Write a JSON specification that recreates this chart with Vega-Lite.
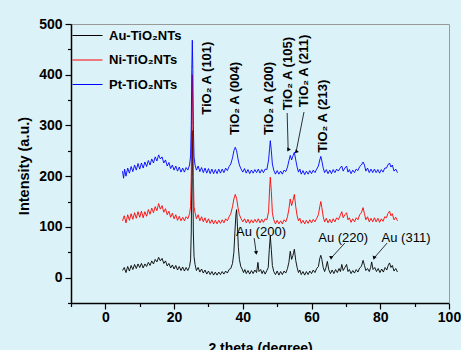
{
"$schema": "https://vega.github.io/schema/vega-lite/v6.json",
"width": 378, "height": 279,
"autosize": {"type": "none"},
"padding": {"left": 71, "top": 24, "right": 12, "bottom": 47},
"background": "#dbf3f8",
"config": {"view": {"stroke": null}, "font": "Liberation Sans", "axis": {"grid": false, "zindex": 1}},
"datasets": {
"au": [{"x":5,"y":14},{"x":5.5,"y":20},{"x":6,"y":10},{"x":6.5,"y":22},{"x":7,"y":13},{"x":7.5,"y":24},{"x":8,"y":16},{"x":8.5,"y":26},{"x":9,"y":18},{"x":9.5,"y":27},{"x":10,"y":20},{"x":10.5,"y":28},{"x":11,"y":19},{"x":11.5,"y":27},{"x":12,"y":22},{"x":12.5,"y":30},{"x":13,"y":24},{"x":13.5,"y":33},{"x":14,"y":27},{"x":14.5,"y":36},{"x":15,"y":31},{"x":15.5,"y":40},{"x":16,"y":33},{"x":16.5,"y":38},{"x":17,"y":28},{"x":17.5,"y":33},{"x":18,"y":23},{"x":18.5,"y":28},{"x":19,"y":19},{"x":19.5,"y":25},{"x":20,"y":17},{"x":20.5,"y":24},{"x":21,"y":15},{"x":21.5,"y":22},{"x":22,"y":14},{"x":22.5,"y":21},{"x":23,"y":13},{"x":23.5,"y":20},{"x":24,"y":14},{"x":24.5,"y":22},{"x":24.8,"y":35},{"x":25.0,"y":90},{"x":25.15,"y":200},{"x":25.3,"y":290},{"x":25.45,"y":200},{"x":25.6,"y":90},{"x":25.8,"y":42},{"x":26.1,"y":26},{"x":26.5,"y":14},{"x":27,"y":20},{"x":27.5,"y":11},{"x":28,"y":17},{"x":28.5,"y":9},{"x":29,"y":15},{"x":29.5,"y":7},{"x":30,"y":13},{"x":30.5,"y":6},{"x":31,"y":12},{"x":31.5,"y":5},{"x":32,"y":11},{"x":32.5,"y":5},{"x":33,"y":11},{"x":33.5,"y":6},{"x":34,"y":12},{"x":34.5,"y":7},{"x":35,"y":13},{"x":35.5,"y":9},{"x":36,"y":16},{"x":36.5,"y":18},{"x":37,"y":28},{"x":37.4,"y":50},{"x":37.7,"y":90},{"x":38.0,"y":125},{"x":38.2,"y":134},{"x":38.45,"y":100},{"x":38.7,"y":60},{"x":39.0,"y":36},{"x":39.4,"y":22},{"x":39.8,"y":17},{"x":40.2,"y":10},{"x":40.6,"y":16},{"x":41,"y":8},{"x":41.5,"y":14},{"x":42,"y":7},{"x":42.5,"y":14},{"x":43,"y":8},{"x":43.5,"y":15},{"x":44,"y":10},{"x":44.4,"y":30},{"x":44.7,"y":12},{"x":45.2,"y":16},{"x":45.6,"y":8},{"x":46,"y":14},{"x":46.5,"y":7},{"x":47,"y":14},{"x":47.4,"y":20},{"x":47.7,"y":55},{"x":48.0,"y":82},{"x":48.3,"y":55},{"x":48.6,"y":24},{"x":49,"y":12},{"x":49.5,"y":6},{"x":50,"y":13},{"x":50.5,"y":5},{"x":51,"y":12},{"x":51.5,"y":6},{"x":52,"y":13},{"x":52.5,"y":9},{"x":53,"y":18},{"x":53.4,"y":30},{"x":53.8,"y":52},{"x":54.2,"y":36},{"x":54.6,"y":44},{"x":55.0,"y":56},{"x":55.4,"y":34},{"x":55.8,"y":20},{"x":56.2,"y":10},{"x":56.6,"y":15},{"x":57,"y":6},{"x":57.5,"y":12},{"x":58,"y":5},{"x":58.5,"y":12},{"x":59,"y":6},{"x":59.5,"y":13},{"x":60,"y":8},{"x":60.5,"y":15},{"x":61,"y":10},{"x":61.5,"y":18},{"x":62,"y":22},{"x":62.4,"y":38},{"x":62.7,"y":44},{"x":63.0,"y":36},{"x":63.4,"y":20},{"x":63.8,"y":12},{"x":64.2,"y":20},{"x":64.6,"y":32},{"x":65.0,"y":16},{"x":65.5,"y":8},{"x":66,"y":15},{"x":66.5,"y":8},{"x":67,"y":16},{"x":67.5,"y":10},{"x":68,"y":18},{"x":68.4,"y":12},{"x":68.8,"y":26},{"x":69.2,"y":14},{"x":69.7,"y":20},{"x":70.2,"y":26},{"x":70.6,"y":12},{"x":71,"y":16},{"x":71.5,"y":8},{"x":72,"y":14},{"x":72.5,"y":9},{"x":73,"y":16},{"x":73.5,"y":11},{"x":74,"y":19},{"x":74.5,"y":22},{"x":75.0,"y":34},{"x":75.4,"y":24},{"x":75.8,"y":14},{"x":76.3,"y":18},{"x":76.8,"y":12},{"x":77.2,"y":20},{"x":77.5,"y":31},{"x":77.9,"y":16},{"x":78.4,"y":20},{"x":78.9,"y":12},{"x":79.4,"y":18},{"x":79.9,"y":10},{"x":80.4,"y":17},{"x":80.9,"y":11},{"x":81.4,"y":20},{"x":81.9,"y":15},{"x":82.3,"y":24},{"x":82.7,"y":29},{"x":83.1,"y":20},{"x":83.5,"y":24},{"x":84,"y":13},{"x":84.5,"y":18},{"x":85,"y":11}],
"ni": [{"x":5,"y":112},{"x":5.5,"y":122},{"x":6,"y":108},{"x":6.5,"y":124},{"x":7,"y":113},{"x":7.5,"y":126},{"x":8,"y":115},{"x":8.5,"y":128},{"x":9,"y":117},{"x":9.5,"y":130},{"x":10,"y":119},{"x":10.5,"y":131},{"x":11,"y":118},{"x":11.5,"y":130},{"x":12,"y":121},{"x":12.5,"y":134},{"x":13,"y":125},{"x":13.5,"y":137},{"x":14,"y":128},{"x":14.5,"y":140},{"x":15,"y":132},{"x":15.5,"y":146},{"x":16,"y":135},{"x":16.5,"y":142},{"x":17,"y":129},{"x":17.5,"y":136},{"x":18,"y":124},{"x":18.5,"y":131},{"x":19,"y":119},{"x":19.5,"y":127},{"x":20,"y":116},{"x":20.5,"y":124},{"x":21,"y":113},{"x":21.5,"y":121},{"x":22,"y":112},{"x":22.5,"y":119},{"x":23,"y":112},{"x":23.5,"y":120},{"x":24,"y":116},{"x":24.5,"y":126},{"x":24.8,"y":140},{"x":25.0,"y":200},{"x":25.15,"y":320},{"x":25.3,"y":400},{"x":25.45,"y":320},{"x":25.6,"y":200},{"x":25.8,"y":140},{"x":26.1,"y":128},{"x":26.5,"y":116},{"x":27,"y":124},{"x":27.5,"y":112},{"x":28,"y":120},{"x":28.5,"y":110},{"x":29,"y":118},{"x":29.5,"y":108},{"x":30,"y":116},{"x":30.5,"y":107},{"x":31,"y":114},{"x":31.5,"y":106},{"x":32,"y":113},{"x":32.5,"y":106},{"x":33,"y":113},{"x":33.5,"y":107},{"x":34,"y":114},{"x":34.5,"y":108},{"x":35,"y":116},{"x":35.5,"y":112},{"x":36,"y":120},{"x":36.5,"y":126},{"x":37,"y":140},{"x":37.4,"y":155},{"x":37.8,"y":164},{"x":38.2,"y":156},{"x":38.6,"y":138},{"x":39.0,"y":124},{"x":39.5,"y":116},{"x":40,"y":110},{"x":40.5,"y":116},{"x":41,"y":108},{"x":41.5,"y":115},{"x":42,"y":107},{"x":42.5,"y":114},{"x":43,"y":108},{"x":43.5,"y":115},{"x":44,"y":109},{"x":44.5,"y":116},{"x":45,"y":108},{"x":45.5,"y":115},{"x":46,"y":109},{"x":46.5,"y":116},{"x":47,"y":114},{"x":47.5,"y":130},{"x":47.8,"y":175},{"x":48.0,"y":198},{"x":48.3,"y":170},{"x":48.6,"y":128},{"x":49,"y":114},{"x":49.5,"y":106},{"x":50,"y":113},{"x":50.5,"y":106},{"x":51,"y":112},{"x":51.5,"y":106},{"x":52,"y":114},{"x":52.5,"y":110},{"x":53,"y":120},{"x":53.4,"y":135},{"x":53.8,"y":155},{"x":54.2,"y":142},{"x":54.6,"y":152},{"x":55.0,"y":164},{"x":55.4,"y":140},{"x":55.8,"y":122},{"x":56.2,"y":112},{"x":56.6,"y":117},{"x":57,"y":107},{"x":57.5,"y":113},{"x":58,"y":106},{"x":58.5,"y":113},{"x":59,"y":107},{"x":59.5,"y":114},{"x":60,"y":108},{"x":60.5,"y":115},{"x":61,"y":110},{"x":61.5,"y":117},{"x":62,"y":124},{"x":62.4,"y":140},{"x":62.7,"y":150},{"x":63.0,"y":138},{"x":63.4,"y":120},{"x":63.8,"y":110},{"x":64.3,"y":117},{"x":64.8,"y":108},{"x":65.3,"y":115},{"x":65.8,"y":108},{"x":66.3,"y":116},{"x":66.8,"y":110},{"x":67.3,"y":118},{"x":67.8,"y":114},{"x":68.3,"y":122},{"x":68.8,"y":130},{"x":69.2,"y":118},{"x":69.7,"y":124},{"x":70.2,"y":128},{"x":70.6,"y":114},{"x":71,"y":118},{"x":71.5,"y":109},{"x":72,"y":116},{"x":72.5,"y":110},{"x":73,"y":118},{"x":73.5,"y":114},{"x":74,"y":124},{"x":74.5,"y":128},{"x":75.0,"y":138},{"x":75.4,"y":126},{"x":75.8,"y":114},{"x":76.3,"y":120},{"x":76.8,"y":110},{"x":77.3,"y":117},{"x":77.8,"y":110},{"x":78.3,"y":118},{"x":78.8,"y":110},{"x":79.3,"y":117},{"x":79.8,"y":109},{"x":80.3,"y":116},{"x":80.8,"y":111},{"x":81.3,"y":120},{"x":81.8,"y":118},{"x":82.2,"y":126},{"x":82.7,"y":131},{"x":83.1,"y":122},{"x":83.5,"y":126},{"x":84,"y":114},{"x":84.5,"y":119},{"x":85,"y":112}],
"pt": [{"x":5,"y":210},{"x":5.3,"y":196},{"x":5.6,"y":214},{"x":6,"y":200},{"x":6.5,"y":216},{"x":7,"y":206},{"x":7.5,"y":219},{"x":8,"y":209},{"x":8.5,"y":222},{"x":9,"y":212},{"x":9.5,"y":225},{"x":10,"y":214},{"x":10.5,"y":226},{"x":11,"y":216},{"x":11.5,"y":228},{"x":12,"y":219},{"x":12.5,"y":231},{"x":13,"y":222},{"x":13.5,"y":234},{"x":14,"y":226},{"x":14.5,"y":238},{"x":15,"y":230},{"x":15.5,"y":242},{"x":16,"y":234},{"x":16.5,"y":238},{"x":17,"y":226},{"x":17.5,"y":232},{"x":18,"y":220},{"x":18.5,"y":227},{"x":19,"y":215},{"x":19.5,"y":222},{"x":20,"y":212},{"x":20.5,"y":220},{"x":21,"y":210},{"x":21.5,"y":218},{"x":22,"y":208},{"x":22.5,"y":216},{"x":23,"y":208},{"x":23.5,"y":217},{"x":24,"y":212},{"x":24.5,"y":222},{"x":24.8,"y":240},{"x":25.0,"y":300},{"x":25.15,"y":410},{"x":25.3,"y":468},{"x":25.45,"y":410},{"x":25.6,"y":300},{"x":25.8,"y":238},{"x":26.1,"y":222},{"x":26.5,"y":212},{"x":27,"y":220},{"x":27.5,"y":209},{"x":28,"y":217},{"x":28.5,"y":207},{"x":29,"y":216},{"x":29.5,"y":206},{"x":30,"y":215},{"x":30.5,"y":205},{"x":31,"y":214},{"x":31.5,"y":205},{"x":32,"y":213},{"x":32.5,"y":205},{"x":33,"y":214},{"x":33.5,"y":206},{"x":34,"y":214},{"x":34.5,"y":207},{"x":35,"y":216},{"x":35.5,"y":211},{"x":36,"y":219},{"x":36.5,"y":224},{"x":37,"y":236},{"x":37.4,"y":250},{"x":37.8,"y":257},{"x":38.2,"y":250},{"x":38.6,"y":234},{"x":39.0,"y":222},{"x":39.5,"y":214},{"x":40,"y":208},{"x":40.5,"y":215},{"x":41,"y":206},{"x":41.5,"y":213},{"x":42,"y":205},{"x":42.5,"y":212},{"x":43,"y":206},{"x":43.5,"y":213},{"x":44,"y":207},{"x":44.5,"y":214},{"x":45,"y":206},{"x":45.5,"y":213},{"x":46,"y":207},{"x":46.5,"y":214},{"x":47,"y":213},{"x":47.5,"y":232},{"x":47.8,"y":255},{"x":48.0,"y":270},{"x":48.3,"y":250},{"x":48.6,"y":224},{"x":49,"y":212},{"x":49.5,"y":204},{"x":50,"y":211},{"x":50.5,"y":204},{"x":51,"y":210},{"x":51.5,"y":204},{"x":52,"y":212},{"x":52.5,"y":209},{"x":53,"y":218},{"x":53.4,"y":230},{"x":53.8,"y":241},{"x":54.2,"y":232},{"x":54.6,"y":240},{"x":55.0,"y":247},{"x":55.4,"y":232},{"x":55.8,"y":218},{"x":56.2,"y":208},{"x":56.6,"y":214},{"x":57,"y":204},{"x":57.5,"y":211},{"x":58,"y":203},{"x":58.5,"y":210},{"x":59,"y":204},{"x":59.5,"y":211},{"x":60,"y":205},{"x":60.5,"y":212},{"x":61,"y":207},{"x":61.5,"y":214},{"x":62,"y":220},{"x":62.4,"y":232},{"x":62.7,"y":239},{"x":63.0,"y":230},{"x":63.4,"y":216},{"x":63.8,"y":207},{"x":64.3,"y":213},{"x":64.8,"y":205},{"x":65.3,"y":212},{"x":65.8,"y":205},{"x":66.3,"y":213},{"x":66.8,"y":207},{"x":67.3,"y":214},{"x":67.8,"y":210},{"x":68.3,"y":216},{"x":68.8,"y":220},{"x":69.2,"y":210},{"x":69.7,"y":216},{"x":70.2,"y":220},{"x":70.6,"y":208},{"x":71,"y":213},{"x":71.5,"y":205},{"x":72,"y":212},{"x":72.5,"y":207},{"x":73,"y":214},{"x":73.5,"y":211},{"x":74,"y":219},{"x":74.5,"y":222},{"x":75.0,"y":228},{"x":75.4,"y":222},{"x":75.8,"y":210},{"x":76.3,"y":216},{"x":76.8,"y":207},{"x":77.3,"y":214},{"x":77.8,"y":207},{"x":78.3,"y":214},{"x":78.8,"y":207},{"x":79.3,"y":213},{"x":79.8,"y":206},{"x":80.3,"y":213},{"x":80.8,"y":208},{"x":81.3,"y":216},{"x":81.8,"y":216},{"x":82.2,"y":222},{"x":82.7,"y":226},{"x":83.1,"y":218},{"x":83.5,"y":222},{"x":84,"y":210},{"x":84.5,"y":214},{"x":85,"y":207}],
"peaks": [{"x":29.6,"y":321,"label":"TiO₂ A (101)"},{"x":37.7,"y":281,"label":"TiO₂ A (004)"},{"x":47.6,"y":281,"label":"TiO₂ A (200)"},{"x":53.2,"y":330,"label":"TiO₂ A (105)"},{"x":57.8,"y":336,"label":"TiO₂ A (211)"},{"x":63.3,"y":246,"label":"TiO₂ A (213)"}],
"aulabels": [{"x":45.3,"y":90,"label":"Au (200)"},{"x":69.2,"y":78,"label":"Au (220)"},{"x":87.5,"y":78,"label":"Au (311)"}],
"arrows": [{"name":"Au200","x":43.3,"y":78,"x2":43.9,"y2":48.6},{"name":"Au220","x":69.7,"y":68.3,"x2":65.7,"y2":38.7},{"name":"Au311","x":82.0,"y":68.3,"x2":78.2,"y2":38.7},{"name":"A105","x":52.9,"y":324.6,"x2":53.2,"y2":251.6},{"name":"A211","x":57.8,"y":326.5,"x2":55.5,"y2":247.7}]
},
"encoding": {
  "x": {"field": "x", "type": "quantitative", "scale": {"domain": [-10, 100], "nice": false, "zero": false}, "axis": null},
  "y": {"field": "y", "type": "quantitative", "scale": {"domain": [-50, 500], "nice": false, "zero": false}, "axis": null}
},
"layer": [
  {"data": {"values": [{}]},
   "mark": {"type": "rect", "fill": "white", "clip": false},
   "encoding": {
     "x": {"datum": -28.3, "type": "quantitative", "scale": {"domain": [-10, 100], "nice": false, "zero": false}, "axis": {"orient": "top", "ticks": false, "labels": false, "title": null, "domainColor": "#999999", "domainWidth": 1}},
     "x2": {"datum": 130},
     "y": {"datum": 531.6, "type": "quantitative", "scale": {"domain": [-50, 500], "nice": false, "zero": false}, "axis": {"orient": "right", "ticks": false, "labels": false, "title": null, "domainColor": "#999999", "domainWidth": 1}},
     "y2": {"datum": -200}
   }},
  {"data": {"name": "au"},
   "mark": {"type": "line", "strokeWidth": 0.9},
   "encoding": {
     "x": {"field": "x", "type": "quantitative", "scale": {"domain": [-10, 100], "nice": false, "zero": false},
       "axis": {"orient": "bottom", "values": [-10,0,10,20,30,40,50,60,70,80,90,100], "labelExpr": "datum.value % 20 == 0 ? datum.label : ''",
         "tickSize": {"condition": {"test": "datum.value % 20 != 0", "value": 3.5}, "value": 6},
         "domainColor": "black", "domainWidth": 1.5, "tickColor": "black", "tickWidth": 1.2,
         "labelFontSize": 14, "labelFontWeight": "bold", "labelColor": "black", "labelPadding": 1, "labelFlush": false, "labelOverlap": false,
         "title": "2 theta (degree)", "titleFontSize": 14, "titleFontWeight": "bold", "titleColor": "black", "titleBaseline": "top", "titleY": 38}},
     "y": {"field": "y", "type": "quantitative", "scale": {"domain": [-50, 500], "nice": false, "zero": false},
       "axis": {"orient": "left", "values": [-50,0,50,100,150,200,250,300,350,400,450,500], "labelExpr": "datum.value % 100 == 0 ? datum.label : ''",
         "tickSize": {"condition": {"test": "datum.value % 100 != 0", "value": 3.5}, "value": 6},
         "domainColor": "black", "domainWidth": 1.5, "tickColor": "black", "tickWidth": 1.2,
         "labelFontSize": 14, "labelFontWeight": "bold", "labelColor": "black", "labelPadding": 3, "labelOverlap": false,
         "title": "Intensity (a.u.)", "titleFontSize": 14.5, "titleFontWeight": "bold", "titleColor": "black",
         "titleX": -47, "titleY": 141.5, "titleAngle": 270, "titleAlign": "center", "titleBaseline": "middle"}},
     "color": {"datum": "Au-TiO₂NTs", "scale": {"domain": ["Au-TiO₂NTs", "Ni-TiO₂NTs", "Pt-TiO₂NTs"], "range": ["#000000", "#ff0000", "#0000ff"]},
       "legend": {"orient": "none", "legendX": 1, "legendY": -4, "symbolType": "stroke", "symbolSize": 900, "symbolStrokeWidth": 1, "labelFontSize": 13, "labelFontWeight": "bold", "labelColor": "black", "labelOffset": 6, "rowPadding": 1.5, "title": null, "padding": 0}}
   }},
  {"data": {"name": "ni"},
   "mark": {"type": "line", "strokeWidth": 0.9},
   "encoding": {"color": {"datum": "Ni-TiO₂NTs"}}},
  {"data": {"name": "pt"},
   "mark": {"type": "line", "strokeWidth": 0.9},
   "encoding": {"color": {"datum": "Pt-TiO₂NTs"}}},
  {"data": {"name": "peaks"},
   "mark": {"type": "text", "angle": 270, "align": "left", "baseline": "middle", "fontSize": 13, "fontWeight": "bold", "color": "black"},
   "encoding": {"text": {"field": "label"}}},
  {"data": {"name": "aulabels"},
   "mark": {"type": "text", "align": "center", "baseline": "middle", "fontSize": 13, "color": "black"},
   "encoding": {"text": {"field": "label"}}},
  {"data": {"name": "arrows"},
   "mark": {"type": "rule", "strokeWidth": 0.8, "color": "black"},
   "encoding": {"x2": {"field": "x2"}, "y2": {"field": "y2"}}},
  {"data": {"name": "arrows"},
   "mark": {"type": "point", "shape": "triangle-down", "filled": true, "size": 18, "color": "black", "opacity": 1},
   "encoding": {
     "x": {"field": "x2", "type": "quantitative", "scale": {"domain": [-10, 100], "nice": false, "zero": false}, "axis": null},
     "y": {"field": "y2", "type": "quantitative", "scale": {"domain": [-50, 500], "nice": false, "zero": false}, "axis": null},
     "angle": {"field": "name", "type": "ordinal", "scale": {"domain": ["Au200", "Au220", "Au311", "A105", "A211"], "range": [-8, 43, 41, -2, 11]}, "legend": null}
   }}
],
"resolve": {"axis": {"x": "independent", "y": "independent"}}
}
